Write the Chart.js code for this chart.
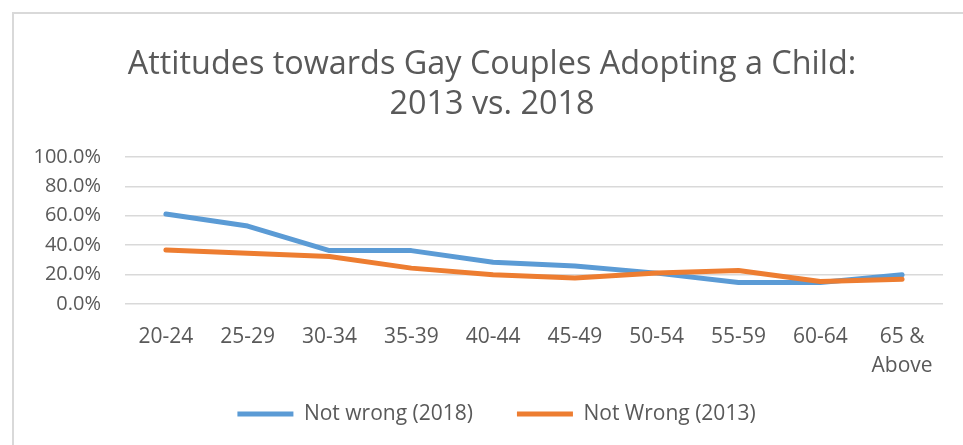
<!DOCTYPE html>
<html lang="en">
<head>
    <meta charset="UTF-8">
    <title>Attitudes towards Gay Couples Adopting a Child</title>
    <script src="https://cdn.jsdelivr.net/npm/chart.js@4.4.1/dist/chart.umd.min.js"></script>
    <style>
        html, body { margin: 0; padding: 0; background: #fff; }
        #wrap { position: relative; width: 963px; height: 445px; overflow: hidden; }
        #frame {
            position: absolute; left: 12px; top: 12px;
            width: 1000px; height: 500px;
            border-left: 2px solid #d9d9d9;
            border-top: 2px solid #d9d9d9;
        }
        canvas { position: absolute; left: 0; top: 0; }
    </style>
</head>
<body>
<div id="wrap">
    <div id="frame"></div>
    <canvas id="myChart" width="963" height="445"></canvas>
</div>

<script>
    const TEXT_COLOR = '#595959';
    const FONT = "'Open Sans', 'Noto Sans', sans-serif";

    const ageGroups = ['20-24', '25-29', '30-34', '35-39', '40-44', '45-49', '50-54', '55-59', '60-64', ['65 &', 'Above']];
    const notWrong2018 = [61.2, 53.0, 36.3, 36.3, 28.4, 25.9, 21.0, 14.6, 14.6, 19.9];
    const notWrong2013 = [36.8, 34.5, 32.3, 24.4, 19.9, 17.6, 21.0, 22.8, 15.3, 16.9];
    const yTicks = [0, 20, 40, 60, 80, 100];

    // Excel centres title and legend a bit right of the canvas middle
    const nudgeBoxes = {
        id: 'nudgeBoxes',
        afterLayout(chart) {
            const title = chart.titleBlock;
            title.left += 10.5;
            title.right += 10.5;

            const legend = chart.legend;
            legend.left += 15;
            legend.right += 15;
            legend.top = 359.5;
            legend.height = 75;
            legend.bottom = legend.top + legend.height;
        }
    };

    const canvas = document.getElementById('myChart');

    new Chart(canvas, {
        type: 'line',
        data: {
            labels: ageGroups,
            datasets: [{
                label: 'Not wrong (2018)',
                data: notWrong2018,
                borderColor: '#5b9bd5',
                backgroundColor: '#5b9bd5',
                borderWidth: 5,
                borderCapStyle: 'round',
                borderJoinStyle: 'round',
                pointRadius: 0,
                tension: 0,
                order: 1
            }, {
                label: 'Not Wrong (2013)',
                data: notWrong2013,
                borderColor: '#ed7d31',
                backgroundColor: '#ed7d31',
                borderWidth: 5,
                borderCapStyle: 'round',
                borderJoinStyle: 'round',
                pointRadius: 0,
                tension: 0,
                order: 0
            }]
        },
        plugins: [nudgeBoxes],
        options: {
            responsive: false,
            animation: false,
            layout: {
                padding: { left: 20, right: 20, top: 0, bottom: 10 }
            },
            scales: {
                x: {
                    offset: true,
                    afterFit: scale => { scale.height = 77; },
                    grid: { display: false, drawTicks: false },
                    border: { display: false },
                    ticks: {
                        color: TEXT_COLOR,
                        font: { family: FONT, size: 21, lineHeight: 1.4 },
                        padding: 18,
                        maxRotation: 0,
                        autoSkip: false
                    }
                },
                y: {
                    min: 0,
                    max: 100,
                    afterBuildTicks: scale => {
                        scale.ticks = yTicks.map(v => ({ value: v }));
                    },
                    afterFit: scale => { scale.width = 105; },
                    grid: { color: '#d9d9d9', lineWidth: 1.5, drawTicks: false },
                    border: { display: false },
                    ticks: {
                        color: TEXT_COLOR,
                        font: { family: FONT, size: 20 },
                        padding: 24,
                        autoSkip: false,
                        callback: v => v.toFixed(1) + '%'
                    }
                }
            },
            plugins: {
                title: {
                    display: true,
                    text: ['Attitudes towards Gay Couples Adopting a Child:', '2013 vs. 2018'],
                    color: TEXT_COLOR,
                    font: { family: FONT, size: 32.4, weight: 'normal', lineHeight: 1.24 },
                    padding: { top: 44.5, bottom: 32.1 }
                },
                legend: {
                    position: 'bottom',
                    maxHeight: 54,
                    labels: {
                        usePointStyle: true,
                        pointStyle: 'line',
                        pointStyleWidth: 56,
                        color: TEXT_COLOR,
                        font: { family: FONT, size: 21 },
                        padding: 44,
                        sort: (a, b) => a.datasetIndex - b.datasetIndex
                    }
                },
                tooltip: { enabled: false }
            }
        }
    });
</script>
</body>
</html>
